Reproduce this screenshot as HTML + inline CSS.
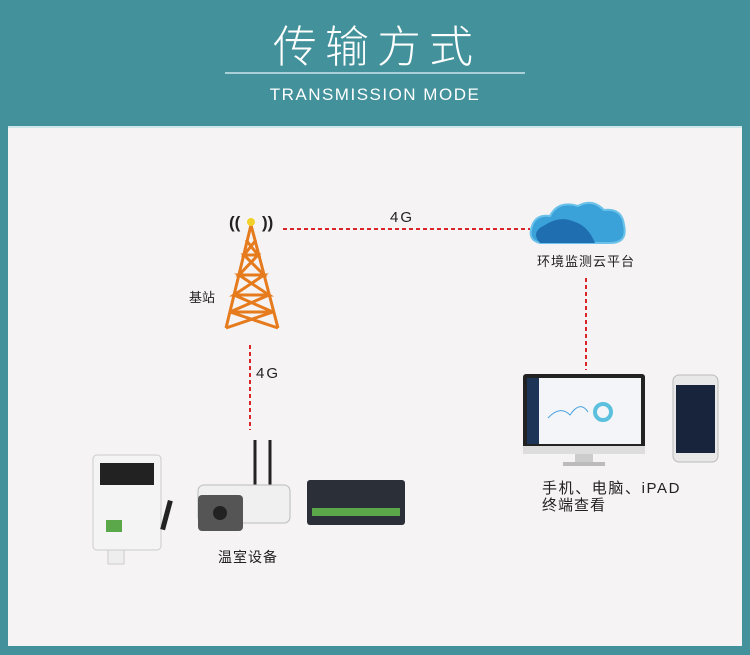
<!DOCTYPE html>
<html><head><meta charset="utf-8"><style>
body{margin:0;width:750px;height:655px;background:#42919b;overflow:hidden;font-family:"Liberation Sans","Noto Sans CJK SC",sans-serif}
</style></head><body>
<svg width="750" height="655" xmlns="http://www.w3.org/2000/svg" style="position:absolute;left:0;top:0">
<rect width="750" height="655" fill="#42919b"/>
<text x="377" y="62" text-anchor="middle" fill="#fff" font-size="44" font-family="Noto Sans CJK SC, sans-serif" font-weight="300" letter-spacing="8">传输方式</text>
<rect x="225" y="72" width="300" height="2" fill="#a9d0d6"/>
<text x="375" y="100" text-anchor="middle" fill="#fff" font-size="17" letter-spacing="1.5" font-family="Liberation Sans, sans-serif">TRANSMISSION MODE</text>
<rect x="8" y="126" width="734" height="520" fill="#f6f3f4"/>
<rect x="8" y="126" width="734" height="2" fill="#cfe6ea"/>
<g stroke="#d9252a" stroke-width="2" stroke-dasharray="4,3" fill="none">
<line x1="283" y1="229" x2="530" y2="229"/>
<line x1="250" y1="345" x2="250" y2="430"/>
<line x1="586" y1="278" x2="586" y2="370"/>
</g>
<text x="402" y="222" text-anchor="middle" font-size="15" fill="#222" letter-spacing="2">4G</text>
<text x="268" y="378" text-anchor="middle" font-size="15" fill="#222" letter-spacing="2">4G</text>
<g stroke="#e67b1d" stroke-width="3" fill="none">
<line x1="251" y1="225" x2="226" y2="328"/><line x1="251" y1="225" x2="278" y2="328"/>
<line x1="244" y1="255" x2="258" y2="255"/><line x1="239" y1="275" x2="264" y2="275"/>
<line x1="234" y1="295" x2="269" y2="295"/><line x1="230" y1="312" x2="273" y2="312"/>
<polyline points="246,240 258,255 244,255 264,275 239,275 269,295 234,295 273,312 230,312 278,328"/>
<polyline points="256,240 244,255 258,255 239,275 264,275 234,295 269,295 230,312 273,312 226,328"/>
</g>
<circle cx="251" cy="222" r="4" fill="#f2d12a"/>
<text x="229" y="228" font-size="17" font-weight="bold" fill="#222">((</text>
<text x="262" y="228" font-size="17" font-weight="bold" fill="#222">))</text>
<text x="189" y="302" font-size="13" fill="#222">基站</text>
<path d="M540 243 Q527 240 532 226 Q536 214 550 216 Q558 200 578 206 Q592 198 604 210 Q622 208 624 225 Q628 243 610 243 Z" fill="#3aa2d8" stroke="#6cc2ea" stroke-width="2"/>
<path d="M540 243 Q530 232 545 225 Q560 215 575 222 Q588 226 595 243 Z" fill="#1f6fb0"/>
<text x="586" y="266" text-anchor="middle" font-size="13" fill="#222" letter-spacing="1">环境监测云平台</text>
<rect x="523" y="374" width="122" height="78" rx="3" fill="#222"/>
<rect x="527" y="378" width="114" height="66" fill="#f3f5f8"/>
<rect x="527" y="378" width="12" height="66" fill="#1d3557"/>
<circle cx="603" cy="412" r="8" fill="none" stroke="#5bc0de" stroke-width="4"/>
<path d="M548 418 Q560 405 570 415 Q580 400 588 412" stroke="#4aa3df" fill="none"/>
<rect x="523" y="446" width="122" height="8" fill="#ddd"/>
<rect x="575" y="454" width="18" height="9" fill="#ccc"/><rect x="563" y="462" width="42" height="4" fill="#bbb"/>
<rect x="673" y="375" width="45" height="87" rx="6" fill="#e8e8e8" stroke="#bbb"/>
<rect x="676" y="385" width="39" height="68" fill="#17243b"/>
<text x="542" y="493" font-size="15" fill="#222" letter-spacing="1.6">手机、电脑、iPAD</text>
<text x="542" y="510" font-size="15" fill="#222" letter-spacing="1">终端查看</text>
<rect x="93" y="455" width="68" height="95" rx="4" fill="#f4f4f4" stroke="#ccc"/>
<rect x="100" y="463" width="54" height="22" fill="#222"/>
<rect x="106" y="520" width="16" height="12" fill="#5aa84a"/>
<rect x="108" y="550" width="16" height="14" fill="#eee" stroke="#ccc"/>
<rect x="164" y="500" width="5" height="30" fill="#222" transform="rotate(15 166 515)"/>
<line x1="255" y1="440" x2="255" y2="485" stroke="#222" stroke-width="3"/>
<line x1="270" y1="440" x2="270" y2="485" stroke="#222" stroke-width="3"/>
<rect x="198" y="485" width="92" height="38" rx="6" fill="#f0f0f0" stroke="#bbb"/>
<rect x="198" y="495" width="45" height="36" rx="4" fill="#555"/>
<circle cx="220" cy="513" r="7" fill="#222"/>
<text x="218" y="562" font-size="14" fill="#222" letter-spacing="1">温室设备</text>
<rect x="307" y="480" width="98" height="45" rx="3" fill="#2b2f38"/>
<rect x="312" y="508" width="88" height="8" fill="#5aa84a"/>
</svg>
</body></html>
